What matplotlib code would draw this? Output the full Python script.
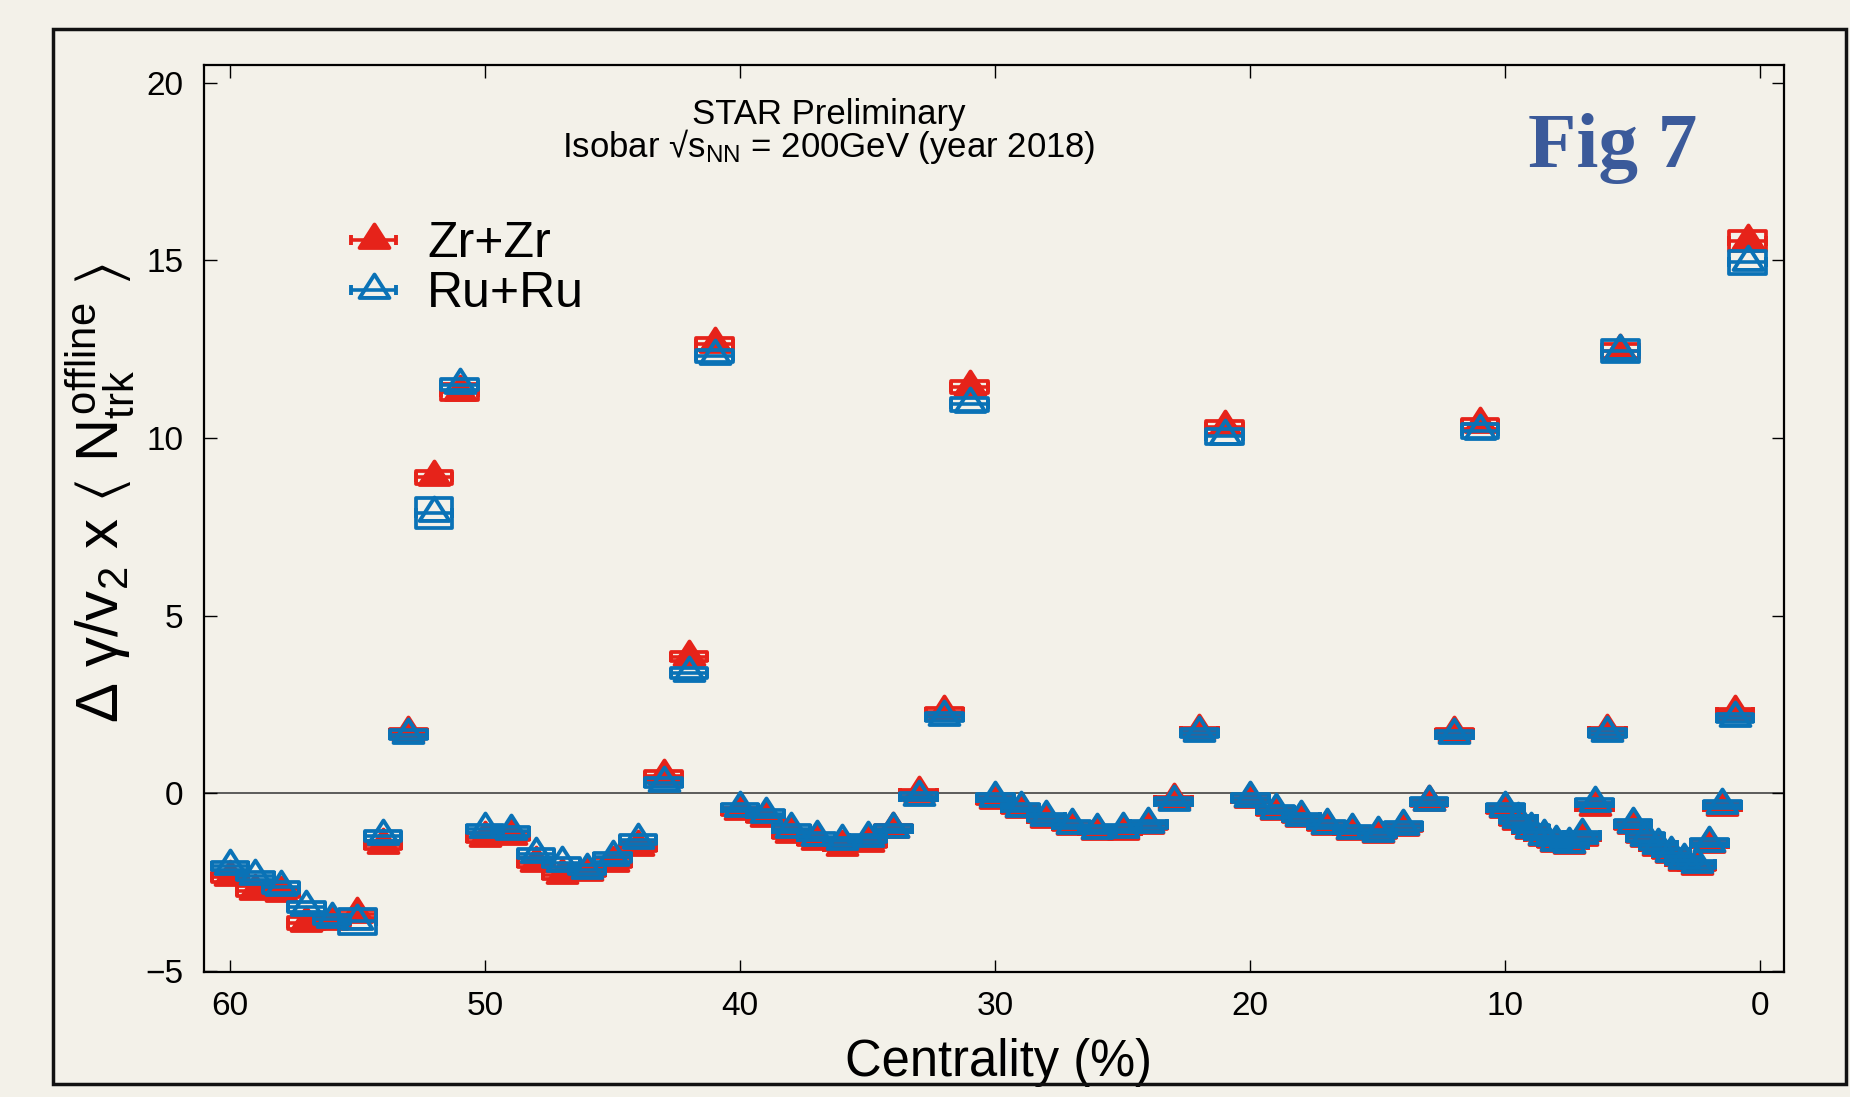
import matplotlib
import numpy as np
import matplotlib.pyplot as plt
from matplotlib.patches import Rectangle
from matplotlib.collections import PatchCollection
from matplotlib.path import Path
from matplotlib.legend_handler import HandlerErrorbar

matplotlib.use("Agg")

plt.rcParams["font.family"] = ["Liberation Sans", "DejaVu Sans"]
plt.rcParams["mathtext.fontset"] = "custom"
plt.rcParams["mathtext.rm"] = "Liberation Sans"
plt.rcParams["mathtext.it"] = "Liberation Sans"
plt.rcParams["mathtext.bf"] = "Liberation Sans:bold"
plt.rcParams["mathtext.fallback"] = "stixsans"

BG = "#f3f1e9"
RED = "#e6231a"
BLUE = "#0a72b6"

# centrality bins (%), grouped as the analysis binning goes
centrality = [60, 59, 58, 57, 56, 55, 54, 53, 52, 51,
              50, 49, 48, 47, 46, 45, 44, 43, 42, 41,
              40, 39, 38, 37, 36, 35, 34, 33, 32, 31,
              30, 29, 28, 27, 26, 25, 24, 23, 22, 21,
              20, 19, 18, 17, 16, 15, 14, 13, 12, 11,
              10, 9.5, 9, 8.5, 8, 7.5, 7, 6.5, 6, 5.5,
              5, 4.5, 4, 3.5, 3, 2.5, 2, 1.5, 1, 0.5]

zr = [-2.35, -2.75, -2.8, -3.65, -3.6, -3.4, -1.45, 1.7, 8.9, 11.3,
      -1.25, -1.2, -1.95, -2.3, -2.2, -1.95, -1.5, 0.5, 3.85, 12.65,
      -0.5, -0.7, -1.15, -1.35, -1.5, -1.4, -1.0, 0.0, 2.3, 11.45,
      -0.2, -0.45, -0.72, -0.92, -1.05, -1.05, -0.9, -0.2, 1.75, 10.3,
      -0.15, -0.5, -0.7, -0.92, -1.05, -1.15, -0.95, -0.25, 1.7, 10.4,
      -0.45, -0.78, -1.02, -1.22, -1.4, -1.45, -1.22, -0.38, 1.75, 12.45,
      -0.9, -1.27, -1.5, -1.72, -1.93, -2.05, -1.42, -0.38, 2.28, 15.55]

ru = [-2.05, -2.33, -2.65, -3.2, -3.55, -3.6, -1.2, 1.65, 7.9, 11.5,
      -1.0, -1.07, -1.7, -1.95, -2.15, -1.8, -1.3, 0.3, 3.4, 12.3,
      -0.4, -0.57, -1.0, -1.22, -1.35, -1.27, -1.0, -0.1, 2.15, 10.95,
      -0.12, -0.4, -0.67, -0.88, -1.02, -1.0, -0.87, -0.23, 1.7, 10.05,
      -0.13, -0.46, -0.67, -0.88, -1.02, -1.12, -0.92, -0.24, 1.65, 10.2,
      -0.41, -0.73, -0.99, -1.19, -1.36, -1.42, -1.18, -0.27, 1.7, 12.45,
      -0.86, -1.23, -1.46, -1.67, -1.89, -2.0, -1.39, -0.32, 2.12, 14.95]

# systematic uncertainties (half heights of the boxes)
zr_sys = [0.15, 0.15, 0.12, 0.17, 0.12, 0.12, 0.12, 0.1, 0.18, 0.23,
          0.12, 0.12, 0.12, 0.12, 0.12, 0.12, 0.12, 0.12, 0.12, 0.18,
          0.1, 0.1, 0.1, 0.1, 0.1, 0.1, 0.1, 0.1, 0.1, 0.17,
          0.1, 0.1, 0.1, 0.1, 0.1, 0.1, 0.1, 0.1, 0.1, 0.18,
          0.1, 0.1, 0.1, 0.1, 0.1, 0.1, 0.1, 0.1, 0.1, 0.14,
          0.1, 0.1, 0.1, 0.1, 0.1, 0.1, 0.1, 0.1, 0.1, 0.2,
          0.1, 0.1, 0.1, 0.1, 0.1, 0.1, 0.1, 0.1, 0.1, 0.28]

ru_sys = [0.12, 0.12, 0.15, 0.15, 0.12, 0.35, 0.15, 0.12, 0.42, 0.15,
          0.12, 0.12, 0.12, 0.12, 0.12, 0.12, 0.12, 0.12, 0.14, 0.17,
          0.1, 0.1, 0.1, 0.1, 0.1, 0.1, 0.1, 0.1, 0.12, 0.19,
          0.1, 0.1, 0.1, 0.1, 0.1, 0.1, 0.1, 0.1, 0.1, 0.21,
          0.1, 0.1, 0.1, 0.1, 0.1, 0.1, 0.1, 0.1, 0.1, 0.19,
          0.1, 0.1, 0.1, 0.1, 0.1, 0.1, 0.1, 0.1, 0.1, 0.3,
          0.1, 0.1, 0.1, 0.1, 0.1, 0.1, 0.1, 0.1, 0.12, 0.33]

BIN_HALF = 0.72

# ROOT-style triangle: centroid on the data point, apex above
tri = Path([(-14, -7), (14, -7), (0, 15), (-14, -7)],
           [Path.MOVETO, Path.LINETO, Path.LINETO, Path.CLOSEPOLY])

fig = plt.figure(figsize=(18.5, 10.97), dpi=100, facecolor=BG)
ax = fig.add_axes([0.1105, 0.1139, 0.8538, 0.8268])
ax.set_facecolor(BG)


def draw_series(x, y, sys, color, filled, label, z):
    boxes = [Rectangle((xi - BIN_HALF, yi - si), 2 * BIN_HALF, 2 * si)
             for xi, yi, si in zip(x, y, sys)]
    ax.add_collection(PatchCollection(boxes, facecolor="none", edgecolor=color,
                                      linewidth=2.7, zorder=z))
    return ax.errorbar(x, y, xerr=BIN_HALF, ls="none", marker=tri, ms=23,
                       mfc=color if filled else "none", mec=color, mew=2.8,
                       ecolor=color, elinewidth=2.6, capsize=3.5, capthick=2.6,
                       label=label, zorder=z + 1)


h_zr = draw_series(centrality, zr, zr_sys, RED, True, "Zr+Zr", 2)
h_ru = draw_series(centrality, ru, ru_sys, BLUE, False, "Ru+Ru", 4)

ax.axhline(0, color="#505050", lw=1.3, zorder=1)

ax.set_xlim(61.0, -0.92)
ax.set_ylim(-5.03, 20.5)
ax.set_xticks([60, 50, 40, 30, 20, 10, 0])
ax.set_yticks([-5, 0, 5, 10, 15, 20])
ax.tick_params(direction="in", length=9, width=1, top=True, right=True,
               labelsize=24, colors="black")
ax.tick_params(axis="x", pad=13.5)
ax.tick_params(axis="y", pad=15)
for sp in ax.spines.values():
    sp.set_linewidth(1.6)

ax.set_xlabel("Centrality (%)", fontsize=36.5)
ax.xaxis.set_label_coords(0.503, -0.073)
ax.set_ylabel(r"Δ γ/v$_{2}$ x $\langle$ $N_{trk}^{offline}$ $\rangle$",
              fontsize=43, va="baseline")
ax.yaxis.set_label_coords(-0.0545, 0.528)

ax.text(0.3955, 0.8986, "STAR Preliminary\n" + r"Isobar √s$_{NN}$ = 200GeV (year 2018)",
        transform=ax.transAxes, ha="center", va="baseline", fontsize=25,
        linespacing=0.88)
ax.text(0.838, 0.8872, "Fig 7", transform=ax.transAxes, ha="left", va="baseline",
        fontsize=57, fontweight="bold", family="Liberation Serif", color="#3b5a9a")

ax.legend(handles=[h_zr, h_ru], loc="upper left", bbox_to_anchor=(0.0913, 0.828),
          frameon=False, fontsize=36, borderpad=0, borderaxespad=0,
          handlelength=1.0, handletextpad=0.57, labelspacing=0.08,
          handler_map={type(h_zr): HandlerErrorbar(xerr_size=0.45)})

# outer frame around the whole panel
fig.patches.append(Rectangle((0.02865, 0.01185), 0.9692, 0.9613, fill=False,
                             edgecolor="#111111", linewidth=2.5,
                             transform=fig.transFigure, zorder=10))

fig.savefig("out.png", dpi=100, facecolor=BG)
